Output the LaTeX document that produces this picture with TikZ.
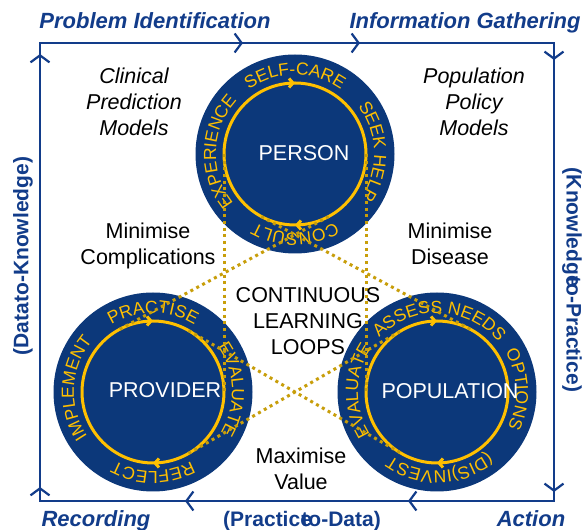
\documentclass[tikz,border=0pt]{standalone}
\usepackage{fontspec}
\setmainfont{Liberation Sans}
\usetikzlibrary{arrows.meta,decorations.text,decorations.markings,calc}
\definecolor{navy}{RGB}{12,56,122}
\definecolor{frameblue}{RGB}{18,60,138}
\definecolor{ringyellow}{RGB}{255,192,0}
\definecolor{dotgold}{RGB}{200,158,10}
\newcommand\ringfont{\fontsize{17.5}{19}\selectfont\color{ringyellow}}
\def\ringR{79}
\newcommand\ringlabel[3]{%
  \path[decorate,decoration={text along path,text align=center,text={|\ringfont|#3}}]
    ($(#1)+(#2+80:\ringR)$) arc[start angle=#2+80,end angle=#2-80,radius=\ringR];}
\begin{document}
\begin{tikzpicture}[x=1pt,y=1pt,
  frame/.style={draw=frameblue,line width=2.2pt},
  disc/.style={circle,fill=navy,minimum size=199pt,inner sep=0pt,outer sep=0pt},
  loopline/.style={draw=ringyellow,line width=3pt},
  dotline/.style={draw=dotgold,line width=3pt,dash pattern=on 3pt off 3.7pt},
  hdr/.style={text=frameblue,font=\fontsize{22}{24}\selectfont\bfseries\itshape,anchor=base,inner sep=0pt},
  side/.style={text=frameblue,font=\fontsize{21}{24}\selectfont\bfseries,inner sep=0pt},
  note/.style={font=\fontsize{21.5}{26}\selectfont,align=center,anchor=north,inner sep=0pt},
  inote/.style={note,font=\fontsize{21.5}{26}\selectfont\itshape},
  hub/.style={text=white,font=\fontsize{21.5}{24}\selectfont,inner sep=0pt}]
\useasboundingbox (0,0) rectangle (584,530);
\fill[white] (0,0) rectangle (584,530);
% frame
\coordinate (bl) at (40,29);
\coordinate (tl) at (40,487);
\coordinate (tr) at (554,487);
\coordinate (br) at (554,29);
\draw[frame,postaction={decorate},decoration={markings,
  mark=at position 14pt with {\arrow{Straight Barb[length=7pt,width=19pt]}},
  mark=at position 447pt with {\arrow{Straight Barb[length=7pt,width=19pt]}},
  mark=at position 661pt with {\arrow{Straight Barb[length=7pt,width=19pt]}},
  mark=at position 778pt with {\arrow{Straight Barb[length=7pt,width=19pt]}},
  mark=at position 989pt with {\arrow{Straight Barb[length=7pt,width=19pt]}},
  mark=at position 1421pt with {\arrow{Straight Barb[length=7pt,width=19pt]}},
  mark=at position 1576pt with {\arrow{Straight Barb[length=7pt,width=19pt]}},
  mark=at position 1799pt with {\arrow{Straight Barb[length=7pt,width=19pt]}}}]
  (bl) -- (tl) -- (tr) -- (br) -- cycle;
% frame labels
\node[hdr] (lblpi) at (155,501) {Problem Identification};
\node[hdr] (lblig) at (465,501) {Information Gathering};
\node[hdr] (lblrec) at (96,3) {Recording};
\node[hdr] (lblact) at (531,3) {Action};
\node[side,anchor=base] (lblptd) at (302,3) {(Practice\kern-0.5em to-Data)};
\node[side,rotate=90] (lbldtk) at (23,274) {(Datato-Knowledge)};
\node[side,rotate=-90] (lblktp) at (572,250) {(Knowledge\kern-0.5em to-Practice)};
% discs
\coordinate (P) at (295,376);
\coordinate (V) at (153,138);
\coordinate (U) at (437,138);
\node[disc] (person) at (P) {};
\node[disc] (provider) at (V) {};
\node[disc] (population) at (U) {};
\foreach \c in {P,V,U}
  \draw[loopline,postaction={decorate},decoration={markings,
    mark=at position 0.25 with {\arrowreversed{Straight Barb[length=4pt,width=9pt]}},
    mark=at position 0.75 with {\arrowreversed{Straight Barb[length=4pt,width=9pt]}}}]
    (\c) circle[radius=71];
\ringlabel{P}{90}{SELF-CARE}
\ringlabel{P}{2}{SEEK HELP}
\ringlabel{P}{-90}{CONSULT}
\ringlabel{P}{178}{EXPERIENCE}
\ringlabel{V}{90}{PRACTISE}
\ringlabel{V}{2}{EVALUATE}
\ringlabel{V}{-90}{REFLECT}
\ringlabel{V}{177}{IMPLEMENT}
\ringlabel{U}{88}{ASSESS NEEDS}
\ringlabel{U}{2}{OPTIONS}
\ringlabel{U}{-88}{(DIS)INVEST}
\ringlabel{U}{179}{EVALUATE}
\node[hub] (personlbl) at (304,377) {PERSON};
\node[hub] (providerlbl) at (165,140) {PROVIDER};
\node[hub] (populationlbl) at (450,139) {POPULATION};
% tangent lines
\coordinate (pv1a) at (224,376);   \coordinate (pv1b) at (224,138);
\coordinate (pv2a) at (328.7,313.5); \coordinate (pv2b) at (119.3,200.5);
\coordinate (pu1a) at (366,376);   \coordinate (pu1b) at (366,138);
\coordinate (pu2a) at (261.3,313.5); \coordinate (pu2b) at (470.7,200.5);
\coordinate (vu1a) at (188.5,76.5); \coordinate (vu1b) at (401.5,199.5);
\coordinate (vu2a) at (188.5,199.5); \coordinate (vu2b) at (401.5,76.5);
\draw[dotline] (pv1a) -- (pv1b);
\draw[dotline] (pv2a) -- (pv2b);
\draw[dotline] (pu1a) -- (pu1b);
\draw[dotline] (pu2a) -- (pu2b);
\draw[dotline] (vu1a) -- (vu1b);
\draw[dotline] (vu2a) -- (vu2b);
% notes
\node[inote] (cpm) at (134,462.5) {Clinical\\Prediction\\Models};
\node[inote] (ppm) at (474,462.5) {Population\\Policy\\Models};
\node[note] (mincomp) at (148,307.5) {Minimise\\Complications};
\node[note] (mindis) at (450,307.5) {Minimise\\Disease};
\node[note] (cll) at (308,242.5) {CONTINUOUS\\LEARNING\\LOOPS};
\node[note] (maxval) at (301,82.5) {Maximise\\Value};
\end{tikzpicture}
\end{document}
